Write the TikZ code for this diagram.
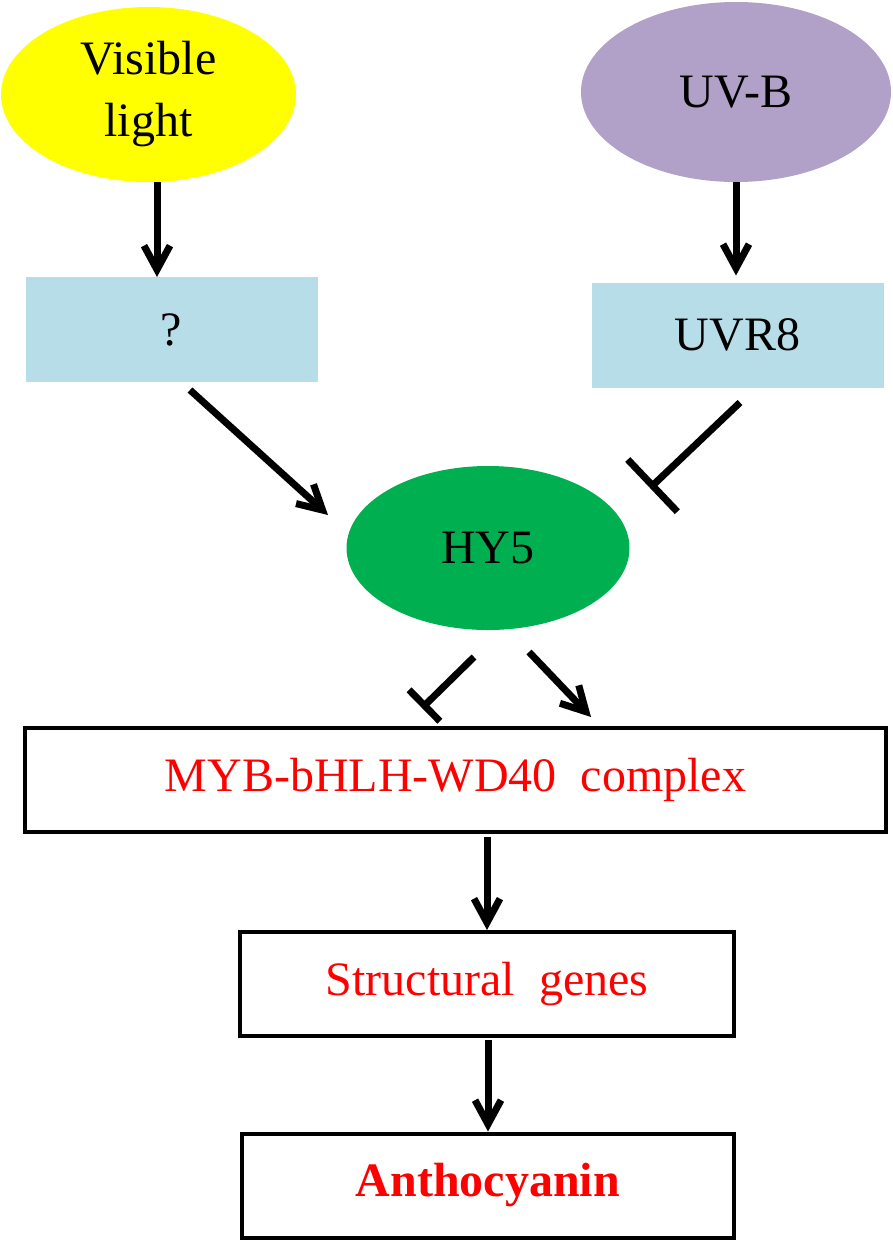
\documentclass[tikz,border=0pt]{standalone}
\usepackage{fontspec}
\setmainfont{Liberation Serif}
\usetikzlibrary{shapes.geometric, arrows.meta, positioning}
\definecolor{sunyellow}{RGB}{255,255,0}
\definecolor{uvpurple}{RGB}{177,160,199}
\definecolor{hygreen}{RGB}{0,176,80}
\definecolor{paleblue}{RGB}{183,221,232}
\definecolor{textred}{RGB}{255,0,0}

\begin{document}
\begin{tikzpicture}[x=1pt, y=1pt, node distance=204pt]
        % Define block styles
        \tikzstyle{source} = [ellipse, inner sep=0pt, outer sep=0pt, text centered, align=center, font=\fontsize{48}{62}\selectfont]
        \tikzstyle{receptor} = [rectangle, minimum width=292pt, minimum height=105pt, inner sep=0pt, outer sep=0pt, text centered, fill=paleblue, font=\fontsize{48}{58}\selectfont]
        \tikzstyle{hub} = [ellipse, minimum width=283pt, minimum height=164pt, inner sep=0pt, outer sep=0pt, text centered, fill=hygreen, font=\fontsize{48}{58}\selectfont]
        \tikzstyle{block} = [rectangle, minimum height=104pt, inner sep=0pt, outer sep=0pt, text centered, draw=black, line width=4pt, text=textred, font=\fontsize{48}{58}\selectfont]
        \tikzstyle{arrow} = [line width=7pt, -{Straight Barb[length=24pt, width=26pt]}]
        \tikzstyle{inhibit} = [line width=7pt, -{Bar[width=72pt]}]

        \useasboundingbox (0,0) rectangle (893,-1240);

        % Nodes
        \node (light) [source, minimum width=295pt, minimum height=175pt, fill=sunyellow] at (148.5,-94.5) {Visible\\light};
        \node (uvb) [source, minimum width=310pt, minimum height=180pt, fill=uvpurple] at (736,-92) {UV-B};
        \node (unknown) [receptor, below of=light, xshift=23, yshift=-31] {?};
        \node (uvr8) [receptor, below of=uvb, xshift=1.5, yshift=-39] {UVR8};
        \node (hy5) [hub] at (488,-548) {HY5};
        \node (myb) [block, minimum width=861pt] at (455.5,-780) {MYB-bHLH-WD40\ \ complex};
        \node (struct) [block, minimum width=494pt, below of=myb, xshift=31.5] {Structural\ \ genes};
        \node (antho) [block, minimum width=492pt, below of=struct, xshift=1, yshift=2.5] {\bfseries Anthocyanin};

        % Arrows
        \draw [arrow] ([xshift=8.5]light.south) -- ([xshift=-14.5]unknown.north);
        \draw [arrow, shorten >=7pt] (uvb.south) -- (uvb.south |- uvr8.north);
        \draw [arrow] ([shift={(18.5,-8)}]unknown.south) -- ([shift={(-18.5,33)}]hy5.west);
        \draw [inhibit] ([shift={(2.5,-15)}]uvr8.south) -- ([shift={(20.5,60)}]hy5.east);
        \draw [inhibit, -{Bar[width=44pt]}] ([shift={(-14,-27)}]hy5.south) -- ([shift={(-33.5,20)}]myb.north);
        \draw [arrow] ([shift={(41,-22)}]hy5.south) -- ([shift={(135.5,11)}]myb.north);
        \draw [arrow, shorten <=5pt, shorten >=2pt] (struct.north |- myb.south) -- (struct.north);
        \draw [arrow, shorten <=4pt, shorten >=2pt] (antho.north |- struct.south) -- (antho.north);
    \end{tikzpicture}
\end{document}
